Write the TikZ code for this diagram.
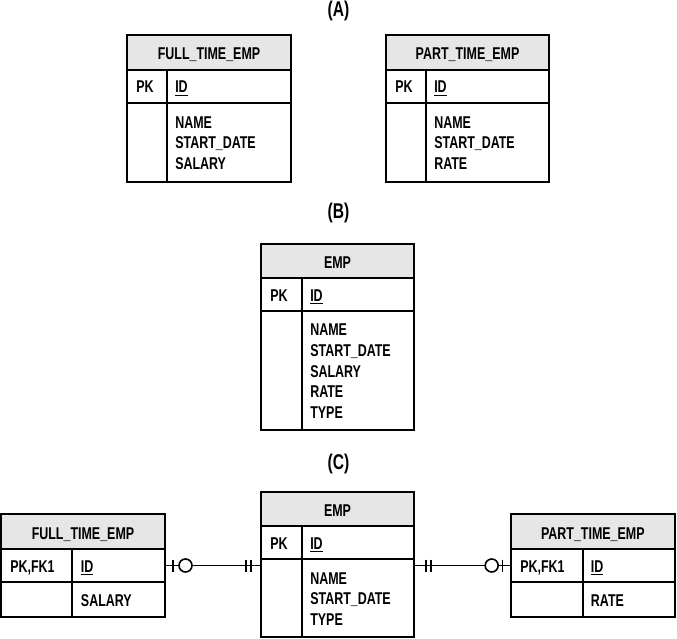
\documentclass[tikz,border=0pt]{standalone}
\usepackage{fontspec}
\setmainfont[FakeStretch=0.73]{Liberation Sans}
\definecolor{hdrgray}{HTML}{E6E6E6}
\newcommand\idul[1]{\setbox0\hbox{#1}\rlap{\rule[-2.6pt]{\wd0}{1.1pt}}\box0}
\tikzset{
 lw/.style={line width=1.5pt},
 tf/.style={font=\bfseries\fontsize{12.8}{15}\selectfont, inner sep=0pt},
 lab/.style={font=\bfseries\fontsize{16}{18}\selectfont, inner sep=0pt},
 conn/.style={line width=1.2pt},
 crow/.style={line width=1.2pt},
}
% name, x1, y1, x2, y2, header bottom, row bottom, divider x, title
\newcommand\ertable[9]{%
 \fill[hdrgray] (#2,#3) rectangle (#4,#6);
 \draw[lw] (#2,#6) -- (#4,#6) (#2,#7) -- (#4,#7) (#8,#6) -- (#8,#5);
 \node[draw,lw,inner sep=0pt,minimum width={(#4-#2)*0.75pt},minimum height={(#5-#3)*0.75pt}] (#1) at ({(#2+#4)/2},{(#3+#5)/2}) {};
 \node[tf, anchor=base] (#1-title) at ({(#2+#4)/2},#6-10) {#9};
}
\begin{document}
\begin{tikzpicture}[x=0.75pt,y=-0.75pt]
\useasboundingbox (0,0) rectangle (677,638);

% (A)
\node[lab] (labA) at (338.5,11) {(A)};
\ertable{a1}{127}{35}{291}{182}{70}{103}{167}{FULL\_TIME\_EMP}
\node[tf,anchor=base west] (a1pk) at (136,93) {PK};
\node[tf,anchor=base west] (a1id) at (175,93) {\idul{ID}};
\node[tf,anchor=base west] (a1f1) at (175,128) {NAME};
\node[tf,anchor=base west] (a1f2) at (175,148.5) {START\_DATE};
\node[tf,anchor=base west] (a1f3) at (175,169) {SALARY};

\ertable{a2}{386}{35}{549}{182}{70}{103}{426}{PART\_TIME\_EMP}
\node[tf,anchor=base west] (a2pk) at (395,93) {PK};
\node[tf,anchor=base west] (a2id) at (434,93) {\idul{ID}};
\node[tf,anchor=base west] (a2f1) at (434,128) {NAME};
\node[tf,anchor=base west] (a2f2) at (434,148.5) {START\_DATE};
\node[tf,anchor=base west] (a2f3) at (434,169) {RATE};

% (B)
\node[lab] (labB) at (338.5,213) {(B)};
\ertable{b}{261}{244}{414}{430}{278}{311}{301.5}{EMP}
\node[tf,anchor=base west] (bpk) at (270,301) {PK};
\node[tf,anchor=base west] (bid) at (310,301) {\idul{ID}};
\node[tf,anchor=base west] (bf1) at (310,335.7) {NAME};
\node[tf,anchor=base west] (bf2) at (310,356.4) {START\_DATE};
\node[tf,anchor=base west] (bf3) at (310,377) {SALARY};
\node[tf,anchor=base west] (bf4) at (310,397.7) {RATE};
\node[tf,anchor=base west] (bf5) at (310,418.3) {TYPE};

% (C)
\node[lab] (labC) at (338.5,464) {(C)};
\ertable{c}{261}{492}{414}{637}{526}{559}{301.5}{EMP}
\node[tf,anchor=base west] (cpk) at (270,549) {PK};
\node[tf,anchor=base west] (cid) at (310,549) {\idul{ID}};
\node[tf,anchor=base west] (cf1) at (310,584) {NAME};
\node[tf,anchor=base west] (cf2) at (310,604.5) {START\_DATE};
\node[tf,anchor=base west] (cf3) at (310,625) {TYPE};

\ertable{ft}{1}{514}{165}{617}{549}{582}{72.3}{FULL\_TIME\_EMP}
\node[tf,anchor=base west] (ftpk) at (10,572) {PK,FK1};
\node[tf,anchor=base west] (ftid) at (80.7,572) {\idul{ID}};
\node[tf,anchor=base west] (ftf1) at (80.7,606) {SALARY};

\ertable{pt}{510.7}{514}{675}{617}{549}{582}{582.7}{PART\_TIME\_EMP}
\node[tf,anchor=base west] (ptpk) at (520,572) {PK,FK1};
\node[tf,anchor=base west] (ptid) at (590.7,572) {\idul{ID}};
\node[tf,anchor=base west] (ptf1) at (590.7,606) {RATE};

% connectors
\coordinate (lrow) at (165,565.5);
\coordinate (rrow) at (510.7,565.5);
\draw[conn] (lrow) -- (lrow -| c.west);
\draw[conn] (rrow -| c.east) -- (rrow);
% left markers
\draw[crow] (172.7,559.5) -- (172.7,571.5);
\draw[crow,fill=white] (185.5,565.5) circle[radius=6.5*0.75pt];
\draw[crow] (245.7,559.5) -- (245.7,571.5);
\draw[crow] (250.7,559.5) -- (250.7,571.5);
% right markers
\draw[crow] (425.7,559.5) -- (425.7,571.5);
\draw[crow] (430.7,559.5) -- (430.7,571.5);
\draw[crow,fill=white] (491.7,565.5) circle[radius=6.5*0.75pt];
\draw[crow] (502.3,559.5) -- (502.3,571.5);
\end{tikzpicture}
\end{document}
